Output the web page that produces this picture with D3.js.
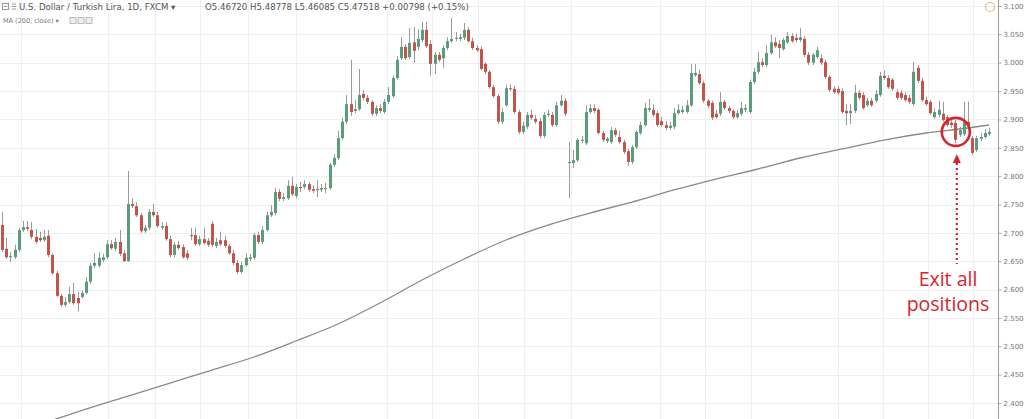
<!DOCTYPE html>
<html><head><meta charset="utf-8">
<script src="https://cdn.jsdelivr.net/npm/d3@7"></script>
<style>html,body{margin:0;padding:0;background:#fff;overflow:hidden}svg{display:block}</style>
</head><body><div id="chart"></div>
<script>
// ---- data (USD/TRY daily candles) ----
const opens = [2.714,2.672,2.657,2.657,2.670,2.705,2.710,2.705,2.693,2.691,2.687,2.695,2.661,2.629,2.589,2.573,2.578,2.592,2.585,2.587,
2.594,2.614,2.642,2.642,2.652,2.657,2.680,2.672,2.684,2.664,2.650,2.751,2.747,2.731,2.703,2.709,2.737,2.731,2.709,2.712,
2.689,2.661,2.679,2.675,2.664,2.696,2.696,2.680,2.689,2.686,2.716,2.677,2.687,2.687,2.677,2.664,2.647,2.631,2.643,2.654,
2.656,2.696,2.684,2.705,2.731,2.735,2.772,2.760,2.761,2.783,2.765,2.781,2.781,2.786,2.777,2.777,2.776,2.777,2.779,2.820,
2.832,2.867,2.896,2.927,2.915,2.918,2.945,2.938,2.931,2.910,2.920,2.913,2.931,2.941,2.973,3.008,3.028,3.010,3.036,3.028,
3.040,3.058,3.033,2.998,3.014,3.008,3.026,3.038,3.042,3.042,3.044,3.058,3.038,3.026,3.024,2.998,2.984,2.957,2.941,2.896,
2.925,2.955,2.954,2.913,2.878,2.887,2.908,2.901,2.897,2.871,2.908,2.908,2.890,2.925,2.933,2.823,2.823,2.828,2.862,2.858,
2.913,2.920,2.917,2.876,2.862,2.860,2.881,2.869,2.860,2.844,2.825,2.851,2.876,2.890,2.917,2.917,2.911,2.897,2.890,2.885,
2.887,2.911,2.913,2.913,2.925,2.978,2.980,2.964,2.933,2.929,2.910,2.910,2.931,2.920,2.915,2.904,2.910,2.917,2.913,2.966,
2.984,3.001,2.996,3.017,3.036,3.033,3.024,3.036,3.047,3.044,3.040,3.042,3.014,3.000,3.010,3.008,3.001,2.975,2.954,2.954,
2.950,2.915,2.911,2.915,2.947,2.943,2.925,2.933,2.933,2.943,2.977,2.973,2.970,2.948,2.947,2.943,2.938,2.927,2.991,2.968,
2.934,2.931,2.904,2.908,2.910,2.904,2.894,2.894,2.873,2.874,2.896,2.867,2.846,2.866,2.869,2.874];
const highs = [2.737,2.691,2.666,2.679,2.709,2.721,2.721,2.719,2.707,2.702,2.705,2.705,2.664,2.633,2.592,2.587,2.605,2.612,2.596,2.599,
2.622,2.647,2.664,2.666,2.663,2.687,2.687,2.691,2.705,2.670,2.809,2.761,2.754,2.735,2.714,2.742,2.751,2.737,2.719,2.719,
2.695,2.684,2.686,2.680,2.670,2.709,2.709,2.695,2.709,2.691,2.721,2.691,2.702,2.695,2.680,2.670,2.652,2.649,2.664,2.663,
2.700,2.702,2.712,2.737,2.749,2.779,2.777,2.770,2.793,2.799,2.786,2.790,2.793,2.790,2.784,2.793,2.786,2.788,2.823,2.839,
2.880,2.903,2.943,3.005,2.934,2.989,2.952,2.943,2.934,2.925,2.927,2.936,2.957,2.977,3.012,3.045,3.033,3.061,3.063,3.059,
3.072,3.072,3.040,3.019,3.019,3.031,3.045,3.079,3.054,3.051,3.070,3.063,3.044,3.031,3.029,3.001,2.987,2.961,2.945,2.920,
2.961,2.962,2.959,2.917,2.896,2.913,2.917,2.908,2.903,2.913,2.917,2.913,2.931,2.943,2.938,2.860,2.846,2.867,2.871,2.925,
2.927,2.927,2.920,2.880,2.869,2.887,2.885,2.880,2.864,2.848,2.855,2.881,2.896,2.929,2.936,2.927,2.915,2.904,2.897,2.896,
2.920,2.927,2.924,2.934,2.998,2.998,2.987,2.968,2.936,2.933,2.917,2.948,2.934,2.924,2.918,2.917,2.931,2.927,2.970,2.991,
3.019,3.008,3.031,3.049,3.045,3.040,3.044,3.054,3.052,3.051,3.061,3.047,3.019,3.017,3.028,3.015,3.005,2.978,2.959,2.959,
2.955,2.927,2.927,2.961,2.952,2.948,2.938,2.938,2.952,2.984,2.987,2.978,2.973,2.954,2.952,2.948,2.943,3.001,2.996,2.973,
2.940,2.934,2.920,2.933,2.931,2.908,2.901,2.899,2.887,2.931,2.931,2.871,2.871,2.876,2.883,2.885];
const lows = [2.666,2.654,2.649,2.654,2.666,2.702,2.703,2.689,2.680,2.684,2.684,2.657,2.626,2.587,2.569,2.569,2.575,2.573,2.561,2.584,
2.591,2.610,2.638,2.638,2.649,2.654,2.670,2.668,2.659,2.649,2.649,2.744,2.728,2.700,2.700,2.705,2.728,2.709,2.705,2.686,
2.657,2.657,2.670,2.654,2.652,2.687,2.677,2.677,2.679,2.675,2.675,2.673,2.677,2.673,2.661,2.643,2.628,2.628,2.640,2.650,
2.652,2.680,2.680,2.702,2.728,2.731,2.756,2.756,2.758,2.765,2.761,2.772,2.777,2.772,2.770,2.763,2.772,2.770,2.776,2.816,
2.828,2.864,2.892,2.906,2.911,2.915,2.934,2.927,2.906,2.906,2.911,2.910,2.927,2.938,2.970,3.005,3.005,3.007,3.000,3.022,
3.036,3.026,2.977,2.980,3.001,2.991,3.022,3.035,3.038,3.038,3.040,3.035,3.022,3.019,2.986,2.980,2.954,2.938,2.892,2.892,
2.922,2.950,2.910,2.874,2.874,2.883,2.899,2.892,2.867,2.867,2.904,2.887,2.887,2.922,2.906,2.761,2.814,2.825,2.858,2.855,
2.910,2.911,2.873,2.860,2.858,2.857,2.869,2.857,2.839,2.818,2.821,2.848,2.873,2.887,2.913,2.904,2.887,2.887,2.881,2.881,
2.883,2.908,2.910,2.910,2.922,2.975,2.961,2.929,2.920,2.899,2.901,2.906,2.917,2.911,2.901,2.901,2.906,2.913,2.910,2.962,
2.980,2.992,2.992,3.014,3.026,3.008,3.021,3.033,3.035,3.036,3.036,3.010,2.996,2.996,3.007,2.996,2.971,2.948,2.945,2.943,
2.910,2.890,2.892,2.911,2.934,2.917,2.922,2.922,2.929,2.940,2.970,2.954,2.950,2.934,2.934,2.931,2.927,2.924,2.964,2.931,
2.924,2.908,2.901,2.904,2.896,2.887,2.885,2.858,2.869,2.871,2.885,2.837,2.843,2.862,2.866,2.871];
const closes = [2.670,2.657,2.659,2.670,2.705,2.710,2.707,2.693,2.684,2.687,2.693,2.661,2.629,2.589,2.573,2.578,2.592,2.576,2.576,2.594,
2.614,2.642,2.647,2.656,2.657,2.680,2.673,2.684,2.663,2.650,2.751,2.747,2.731,2.703,2.709,2.737,2.731,2.712,2.712,2.689,
2.661,2.679,2.673,2.657,2.656,2.695,2.680,2.689,2.682,2.679,2.679,2.684,2.680,2.677,2.664,2.647,2.631,2.643,2.656,2.657,
2.696,2.684,2.705,2.731,2.737,2.772,2.760,2.763,2.783,2.768,2.781,2.779,2.786,2.776,2.774,2.776,2.779,2.779,2.820,2.832,
2.867,2.896,2.927,2.913,2.918,2.943,2.938,2.931,2.910,2.920,2.915,2.931,2.943,2.973,3.005,3.028,3.008,3.035,3.021,3.042,
3.058,3.029,2.998,3.014,3.005,3.026,3.038,3.042,3.044,3.045,3.058,3.038,3.026,3.022,2.989,2.984,2.957,2.941,2.896,2.913,
2.955,2.954,2.913,2.878,2.889,2.908,2.903,2.896,2.871,2.908,2.910,2.890,2.925,2.933,2.910,2.825,2.828,2.864,2.864,2.913,
2.920,2.915,2.876,2.864,2.866,2.881,2.873,2.860,2.843,2.825,2.851,2.878,2.890,2.920,2.920,2.908,2.890,2.890,2.885,2.889,
2.911,2.917,2.917,2.925,2.982,2.982,2.964,2.933,2.924,2.903,2.904,2.931,2.920,2.915,2.904,2.911,2.920,2.920,2.966,2.984,
3.001,2.996,3.017,3.036,3.029,3.026,3.040,3.047,3.038,3.040,3.045,3.014,3.000,3.014,3.022,3.000,2.975,2.952,2.948,2.947,
2.913,2.911,2.915,2.947,2.938,2.920,2.933,2.925,2.945,2.977,2.973,2.957,2.954,2.938,2.938,2.934,2.931,2.984,2.968,2.934,
2.927,2.911,2.913,2.917,2.899,2.890,2.890,2.864,2.881,2.896,2.890,2.841,2.867,2.869,2.876,2.878];
// 200-day moving average, sampled at candle indices
const maIndex = [10,20,30,40,50,60,70,80,90,100,110,120,130,140,150,160,170,180,190,200,210,220,230,235];
const maValue = [2.3647,2.3894,2.4123,2.4352,2.4581,2.4811,2.5093,2.5393,2.5763,2.6169,2.6539,2.6874,2.7138,2.7350,2.7544,2.7756,2.7949,2.8126,2.8320,2.8479,2.8637,2.8761,2.8849,2.8902];
// price axis ticks
const priceTicks = [3.10,3.05,3.00,2.95,2.90,2.85,2.80,2.75,2.70,2.65,2.60,2.55,2.50,2.45,2.40];
// time grid lines, in candle-index units
const timeGrid = [4.5,25.2,36.4,47.1,58.6,70,91.7,102.4,113.3,124.3,135.5,156.7,167.4,178.3,199,209.8,220.5,231.2];
// header texts
const titleText = "U.S. Dollar / Turkish Lira, 1D, FXCM";
const ohlcText = "O5.46720 H5.48778 L5.46085 C5.47518 +0.00798 (+0.15%)";
const studyText = "MA (200, close)";
const noteLines = ["Exit all", "positions"];
const exitIndex = 227.1, exitPrice = 2.878;

// ---- drawing ----
const W = 1024, H = 419, axisX = 998;
const svg = d3.select("#chart").append("svg").attr("width", W).attr("height", H);
const N = opens.length;
const x = d3.scaleLinear().domain([0, N - 1]).range([2, 989]);
const y = d3.scaleLinear().domain([2.40, 3.10]).range([403, 6]);

svg.append("defs").append("clipPath").attr("id", "pane")
  .append("rect").attr("x", 0).attr("y", 0).attr("width", axisX).attr("height", H);

const grid = svg.append("g").attr("stroke", "#eeeff1").attr("stroke-width", 1);
grid.selectAll("line.h").data(priceTicks).join("line").attr("class", "h")
  .attr("x1", 0).attr("x2", axisX).attr("y1", d => Math.round(y(d)) + 0.5).attr("y2", d => Math.round(y(d)) + 0.5);
grid.selectAll("line.v").data(timeGrid).join("line").attr("class", "v")
  .attr("y1", 0).attr("y2", H).attr("x1", d => Math.round(x(d)) + 0.5).attr("x2", d => Math.round(x(d)) + 0.5);

// MA line
const maData = maIndex.map((d, i) => [d, maValue[i]]);
svg.append("path").datum(maData).attr("clip-path", "url(#pane)")
  .attr("fill", "none").attr("stroke", "#8a8a8a").attr("stroke-width", 1.3)
  .attr("d", d3.line().x(d => x(d[0])).y(d => y(d[1])).curve(d3.curveMonotoneX));

// candles
const candles = d3.range(N).map(i => ({i, o: opens[i], h: highs[i], l: lows[i], c: closes[i]}));
const cg = svg.append("g").attr("clip-path", "url(#pane)");
cg.selectAll("line.wick").data(candles).join("line").attr("class", "wick")
  .attr("x1", d => Math.round(x(d.i)) + 0.5).attr("x2", d => Math.round(x(d.i)) + 0.5)
  .attr("y1", d => y(d.h)).attr("y2", d => y(d.l))
  .attr("stroke", "#9a9a9a").attr("stroke-width", 1);
cg.selectAll("rect.body").data(candles).join("rect").attr("class", "body")
  .attr("x", d => Math.round(x(d.i)) - 1).attr("width", 3)
  .attr("y", d => y(Math.max(d.o, d.c)))
  .attr("height", d => Math.max(1, Math.abs(y(d.o) - y(d.c))))
  .attr("fill", d => d.c >= d.o ? "#5a9d7c" : "#c4544a");

// right price axis
svg.append("line").attr("x1", axisX + 0.5).attr("x2", axisX + 0.5).attr("y1", 0).attr("y2", H)
  .attr("stroke", "#9d9d9d").attr("stroke-width", 1);
const ax = svg.append("g").attr("transform", `translate(${axisX + 0.5},0)`)
  .call(d3.axisRight(y).tickValues(priceTicks).tickFormat(d3.format(".5f")).tickSize(3).tickPadding(2));
ax.select(".domain").remove();
ax.selectAll(".tick line").attr("stroke", "#aaa");
ax.selectAll(".tick text").attr("fill", "#777").style("font-family", "'DejaVu Sans', sans-serif").style("font-size", "7px");

// header
const hdr = svg.append("g").style("font-family", "'DejaVu Sans', sans-serif");
hdr.append("rect").attr("x", 2.5).attr("y", 3.5).attr("width", 6).attr("height", 6).attr("fill", "none").attr("stroke", "#999");
hdr.append("line").attr("x1", 4).attr("x2", 7).attr("y1", 6.5).attr("y2", 6.5).attr("stroke", "#999");
[4, 6.5, 9].forEach(v => hdr.append("line").attr("x1", 12).attr("x2", 16).attr("y1", v).attr("y2", v).attr("stroke", "#999"));
hdr.append("text").attr("x", 19).attr("y", 10).attr("fill", "#555").style("font-size", "8.6px").text(titleText + " \u25BE");
hdr.append("text").attr("x", 205).attr("y", 10).attr("fill", "#555").style("font-size", "8.6px").text(ohlcText);
hdr.append("text").attr("x", 3).attr("y", 23).attr("fill", "#777").style("font-size", "6.5px").text(studyText + " \u25BE");
[70, 78, 86].forEach(v => hdr.append("rect").attr("x", v).attr("y", 17.5).attr("width", 6).attr("height", 6)
  .attr("fill", "#eee").attr("stroke", "#bbb"));
svg.append("circle").attr("cx", 990).attr("cy", 7).attr("r", 4.5).attr("fill", "none").attr("stroke", "#f2b48a").attr("stroke-width", 1.2);

// annotation
const red = "#d3262d";
const cx = x(exitIndex), cy = y(exitPrice);
svg.append("circle").attr("cx", cx).attr("cy", cy).attr("r", 14).attr("fill", "none").attr("stroke", red).attr("stroke-width", 2.6);
svg.append("line").attr("x1", cx + 1).attr("x2", cx + 1).attr("y1", cy + 31).attr("y2", cy + 132)
  .attr("stroke", red).attr("stroke-width", 2.2).attr("stroke-dasharray", "2,3");
svg.append("path").attr("d", `M${cx + 1},${cy + 22} L${cx - 3},${cy + 31} L${cx + 5},${cy + 31} Z`).attr("fill", red);
svg.append("g").selectAll("text").data(noteLines).join("text")
  .attr("x", 948).attr("y", (d, i) => 286 + i * 25).attr("text-anchor", "middle")
  .attr("fill", red).style("font-family", "'Open Sans', sans-serif").style("font-size", "19.5px").text(d => d);
</script></body></html>
